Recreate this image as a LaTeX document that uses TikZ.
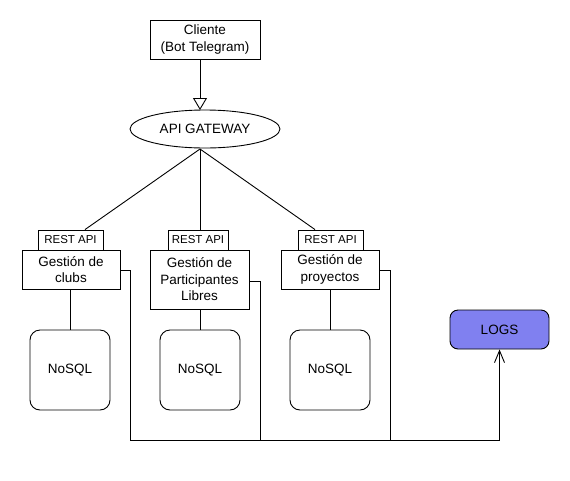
\documentclass[tikz,border=0pt]{standalone}
\usepackage{fontspec}
\setmainfont{Liberation Sans}
\usetikzlibrary{arrows.meta,shapes.geometric}
\definecolor{logsfill}{RGB}{128,128,240}
\tikzset{
  base/.style={draw=black,line width=0.9pt,inner sep=0pt,align=center,font=\fontsize{13.5}{16.5}\selectfont},
  boxr/.style={base,rectangle,minimum width=#1,minimum height=39pt},
  rest/.style={base,rectangle,minimum height=20pt,font=\fontsize{11.5}{13}\selectfont},
  db/.style={base,rectangle,rounded corners=10pt,minimum width=80pt,minimum height=80pt},
  conn/.style={draw=black,line width=0.9pt},
}
\begin{document}
\begin{tikzpicture}[x=1pt,y=-1pt]
\useasboundingbox[fill=white] (0,0) rectangle (570,480);
\node[boxr=110pt] (cli) at (205,39.5) {Cliente\\(Bot Telegram)};
\node[base,ellipse,minimum width=150pt,minimum height=38pt] (gw) at (205,129) {API GATEWAY};
\node[rest,minimum width=65pt] (r1) at (70.5,240) {REST API};
\node[rest,minimum width=60pt] (r2) at (198,240) {REST API};
\node[rest,minimum width=65pt] (r3) at (330.5,240) {REST API};
\node[boxr=98pt] (g1) at (71,269.5) {Gestión de\\clubs};
\node[boxr=99pt,minimum height=59pt] (g2) at (199.5,279.5) {Gestión de\\Participantes\\Libres};
\node[boxr=98pt] (g3) at (330,269.5) {Gestión de\\proyectos};
\node[db] (d1) at (70,370) {NoSQL};
\node[db] (d2) at (200,370) {NoSQL};
\node[db] (d3) at (330,370) {NoSQL};
\node[base,rectangle,rounded corners=8pt,fill=logsfill,minimum width=99pt,minimum height=39pt] (logs) at (499.5,329.5) {LOGS};
\coordinate (hub) at (200,149);
\draw[conn,-{Triangle[open,length=12pt,width=14pt]}] ([xshift=-5pt]cli.south) -- (200,110);
\draw[conn] (hub) -- ([xshift=14.5pt]r1.north);
\draw[conn] (hub) -- ([xshift=2pt]r2.north);
\draw[conn] (hub) -- ([xshift=-15.5pt]r3.north);
\draw[conn] (g1.south -| d1.north) -- (d1.north);
\draw[conn] (g2.south -| d2.north) -- (d2.north);
\draw[conn] (g3.south -| d3.north) -- (d3.north);
\coordinate (bus) at (130,440);
\draw[conn,-{Straight Barb[length=12pt,width=10pt]}] (g1.east |- 0,270) -- (130,270) -- (bus) -| (logs.south);
\draw[conn] (g2.east |- 0,281) -- (260,281) -- (260,440);
\draw[conn] (g3.east |- 0,270) -- (390,270) -- (390,440);
\end{tikzpicture}
\end{document}
